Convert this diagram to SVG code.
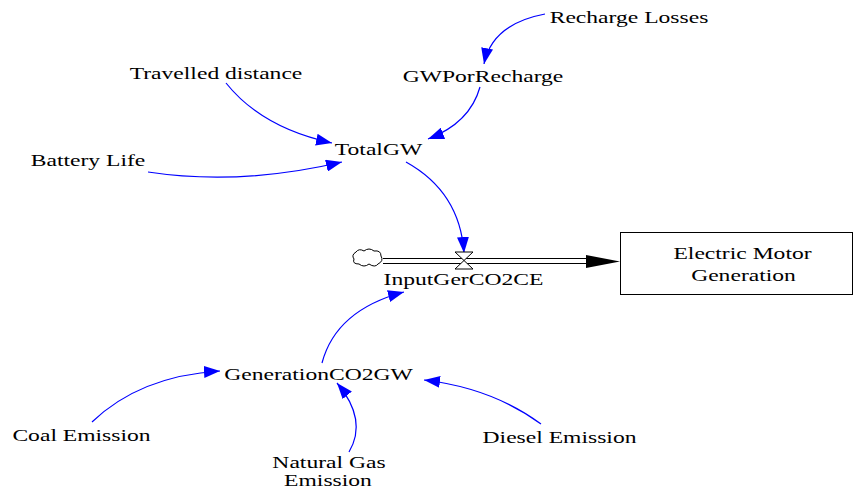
<svg xmlns="http://www.w3.org/2000/svg" width="854" height="488" viewBox="0 0 854 488">
<defs>
<style>
text{font-family:"Liberation Serif","Times New Roman",serif;font-size:16.5px;fill:#000;text-anchor:middle}
.link{fill:none;stroke:#0000ff;stroke-width:1.2}
.pipe{fill:none;stroke:#000;stroke-width:1}
</style>
<marker id="ah" markerUnits="userSpaceOnUse" markerWidth="17" markerHeight="12" refX="16" refY="6" orient="auto" viewBox="0 0 17 12">
<path d="M0,0 L16,6 L0,12 Z" fill="#0000ff"/>
</marker>
</defs>
<rect width="854" height="488" fill="#fff"/>
<g id="connectors">
<path class="link" marker-end="url(#ah)" d="M545,14 Q492,24 484,64"/>
<path class="link" marker-end="url(#ah)" d="M480,87 Q470,123 428,139"/>
<path class="link" marker-end="url(#ah)" d="M226,83 Q262,128 332,143"/>
<path class="link" marker-end="url(#ah)" d="M148,172 Q240,186 342,162"/>
<path class="link" marker-end="url(#ah)" d="M406,162 Q460,192 464,253"/>
<path class="link" marker-end="url(#ah)" d="M322,363 Q336,310 404,292"/>
<path class="link" marker-end="url(#ah)" d="M92,422 Q140,376 220,371"/>
<path class="link" marker-end="url(#ah)" d="M349,452 Q368,420 337,383"/>
<path class="link" marker-end="url(#ah)" d="M541,424 Q492,388 424,380"/>
</g>
<g id="flow">
<path class="pipe" d="M383,258.5 H588 M383,263.5 H588"/>
<path d="M586,255 L620,261.5 L586,268 Z" fill="#000"/>
<path d="M455,252 L473,252 L455,269 L473,269 Z" fill="#fff" stroke="#000" stroke-width="1"/>
</g>
<g id="cloud">
<path d="M356,252 Q359,248 364,251 Q369,247 374,251 Q381,250 381,256 Q384,261 378,264 Q375,268 369,264 Q364,268 359,264 Q352,264 354,259 Q351,255 356,252 Z" fill="#fff" stroke="#000" stroke-width="1"/>
</g>
<g id="InputGerCO2CE"><text transform="translate(463.5,285) scale(1.43,1)">InputGerCO2CE</text></g>
<g id="ElectricMotorGeneration">
<rect x="620.5" y="232.5" width="232" height="62" fill="#fff" stroke="#000" stroke-width="1"/>
<text transform="translate(742.5,259) scale(1.43,1)">Electric Motor</text>
<text transform="translate(743.5,281) scale(1.43,1)">Generation</text>
</g>
<g id="RechargeLosses"><text transform="translate(629,23) scale(1.43,1)">Recharge Losses</text></g>
<g id="GWPorRecharge"><text transform="translate(483,82) scale(1.43,1)">GWPorRecharge</text></g>
<g id="TravelledDistance"><text transform="translate(216,79) scale(1.43,1)">Travelled distance</text></g>
<g id="TotalGW"><text transform="translate(378.5,155) scale(1.43,1)">TotalGW</text></g>
<g id="BatteryLife"><text transform="translate(88,166) scale(1.43,1)">Battery Life</text></g>
<g id="GenerationCO2GW"><text transform="translate(318.5,380) scale(1.43,1)">GenerationCO2GW</text></g>
<g id="CoalEmission"><text transform="translate(81.5,441) scale(1.43,1)">Coal Emission</text></g>
<g id="DieselEmission"><text transform="translate(559.5,443) scale(1.43,1)">Diesel Emission</text></g>
<g id="NaturalGasEmission">
<text transform="translate(329,468) scale(1.43,1)">Natural Gas</text>
<text transform="translate(328,486) scale(1.43,1)">Emission</text>
</g>
</svg>
